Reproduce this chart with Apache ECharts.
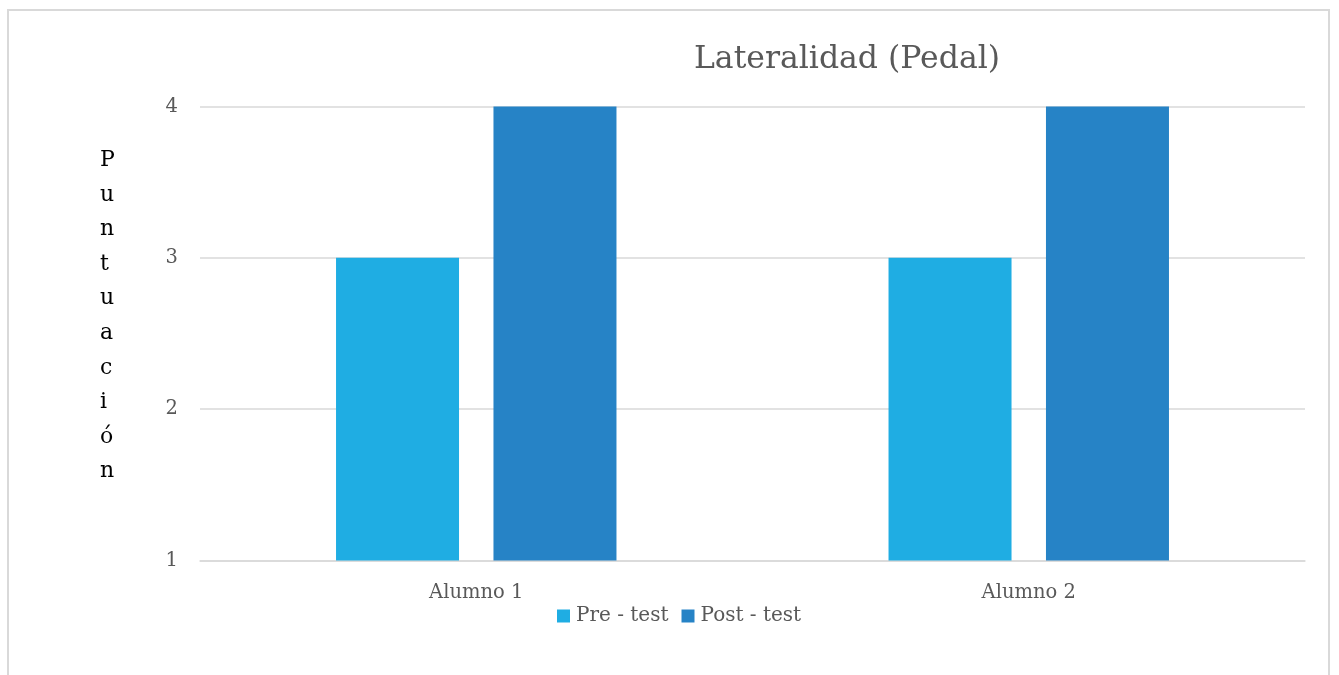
<!DOCTYPE html>
<html>
<head>
<meta charset="utf-8">
<script src="https://cdn.jsdelivr.net/npm/echarts@6/dist/echarts.min.js"></script>
<style>
  html, body { margin: 0; padding: 0; background: #fff; }
  #chart { width: 1339px; height: 675px; }
</style>
</head>
<body>
<div id="chart"></div>
<script>
// Scores per student, before and after the intervention
const categories = ['Alumno 1', 'Alumno 2'];
const preTest = [3, 3];
const postTest = [4, 4];
const seriesNames = ['Pre - test', 'Post - test'];
const yAxisTitle = 'Puntuación';

const FONT = '"DejaVu Serif", "Liberation Serif", serif';
const chart = echarts.init(document.getElementById('chart'), null, { renderer: 'canvas' });

chart.setOption({
  animation: false,
  backgroundColor: '#ffffff',
  title: {
    text: 'Lateralidad (Pedal)',
    left: 842,
    textAlign: 'center',
    top: 39,
    textStyle: { fontFamily: FONT, fontSize: 31.5, fontWeight: 'normal', color: '#595959' }
  },
  graphic: [
    {
      type: 'rect',
      shape: { x: 8, y: 10, width: 1321, height: 700 },
      style: { fill: 'none', stroke: '#d9d9d9', lineWidth: 2 },
      silent: true
    },
    {
      type: 'text',
      left: 100,
      top: 143,
      style: {
        text: yAxisTitle.split('').join('\n'),
        fontFamily: FONT,
        fontSize: 22,
        lineHeight: 34.6,
        fill: '#000000',
        align: 'center'
      }
    }
  ],
  legend: {
    data: seriesNames,
    bottom: 44,
    left: 552,
    icon: 'rect',
    itemWidth: 13,
    itemHeight: 13,
    itemGap: 13,
    itemStyle: { borderWidth: 0 },
    textStyle: { fontFamily: FONT, fontSize: 20, color: '#595959', padding: [0, 0, 0, 1] }
  },
  grid: { left: 200, right: 34, top: 106.5, bottom: 114.5, containLabel: false },
  xAxis: {
    type: 'category',
    data: categories,
    axisLine: { show: true, lineStyle: { color: '#d9d9d9', width: 1.5 } },
    axisTick: { show: false },
    axisLabel: { fontFamily: FONT, fontSize: 19.5, color: '#595959', margin: 22 }
  },
  yAxis: {
    type: 'value',
    min: 1,
    max: 4,
    interval: 1,
    axisLine: { show: false },
    axisTick: { show: false },
    axisLabel: { fontFamily: FONT, fontSize: 19.5, color: '#595959', margin: 22 },
    splitLine: { lineStyle: { color: '#d9d9d9', width: 1.5 } }
  },
  series: [
    {
      name: seriesNames[0],
      type: 'bar',
      data: preTest,
      barWidth: 123,
      barGap: '28%',
      itemStyle: { color: '#1fade3' }
    },
    {
      name: seriesNames[1],
      type: 'bar',
      data: postTest,
      barWidth: 123,
      barGap: '28%',
      itemStyle: { color: '#2683c6' }
    }
  ]
});
</script>
</body>
</html>
